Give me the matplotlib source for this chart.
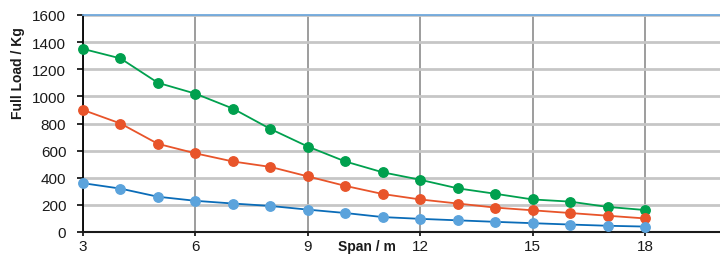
import matplotlib
matplotlib.use("Agg")
import matplotlib.pyplot as plt

span = [3, 4, 5, 6, 7, 8, 9, 10, 11, 12, 13, 14, 15, 16, 17, 18]
load_high = [1350, 1280, 1100, 1020, 910, 760, 630, 520, 440, 385, 322, 282, 240, 224, 185, 162]
load_mid = [900, 800, 650, 580, 520, 480, 410, 340, 280, 240, 210, 180, 160, 140, 120, 100]
load_low = [360, 320, 260, 230, 210, 192, 165, 140, 110, 97, 86, 75, 65, 55, 46, 40]
x_ticks = [3, 6, 9, 12, 15, 18]
y_ticks = [0, 200, 400, 600, 800, 1000, 1200, 1400, 1600]

plt.rcParams['font.family'] = ['Liberation Sans', 'DejaVu Sans']

fig = plt.figure(figsize=(7.2, 2.55), dpi=100)
ax = fig.add_axes([83/720, 1 - 233/255, (720 - 83)/720, (233 - 16)/255])

ax.plot(span, load_high, color='#00A04E', lw=1.3, marker='o', ms=6.8,
        mfc='#00A04E', mec='#00A04E', zorder=3, clip_on=False)
ax.plot(span, load_mid, color='#E8542A', lw=1.3, marker='o', ms=6.8,
        mfc='#E8542A', mec='#E8542A', zorder=3, clip_on=False)
ax.plot(span, load_low, color='#0A6CB8', lw=1.3, marker='o', ms=6.8,
        mfc='#5BA3DC', mec='#5BA3DC', zorder=3, clip_on=False)

ax.set_xlim(3, 20)
ax.set_ylim(0, 1600)
ax.set_xticks(x_ticks)
ax.set_yticks(y_ticks)
ax.set_xticklabels([str(v) for v in x_ticks])
ax.set_yticklabels([str(v) for v in y_ticks])

ax.yaxis.grid(True, color='#C6C6C6', lw=2.0, zorder=0)
ax.xaxis.grid(True, color='#959595', lw=1.3, zorder=1)
ax.set_axisbelow(True)

ax.spines['right'].set_visible(False)
ax.spines['top'].set_color('#6FA8DC')
ax.spines['top'].set_linewidth(1.3)
ax.spines['left'].set_color('black')
ax.spines['left'].set_linewidth(1.3)
ax.spines['bottom'].set_color('#1A1A1A')
ax.spines['bottom'].set_linewidth(1.5)

ax.tick_params(axis='y', direction='out', length=4, width=1.3, labelsize=11,
               pad=8, colors='#1A1A1A')
ax.tick_params(axis='x', direction='out', length=3, width=1.3, labelsize=11,
               pad=2, colors='#1A1A1A')

fig.text(18/720, 1 - 73/255, 'Full Load / Kg', rotation=90, ha='center',
         va='center', fontsize=10, fontweight='bold', color='#1A1A1A')
fig.text(367/720, 1 - 247/255, 'Span / m', ha='center', va='center',
         fontsize=10, fontweight='bold', color='#1A1A1A')

fig.savefig('out.png', dpi=100)
